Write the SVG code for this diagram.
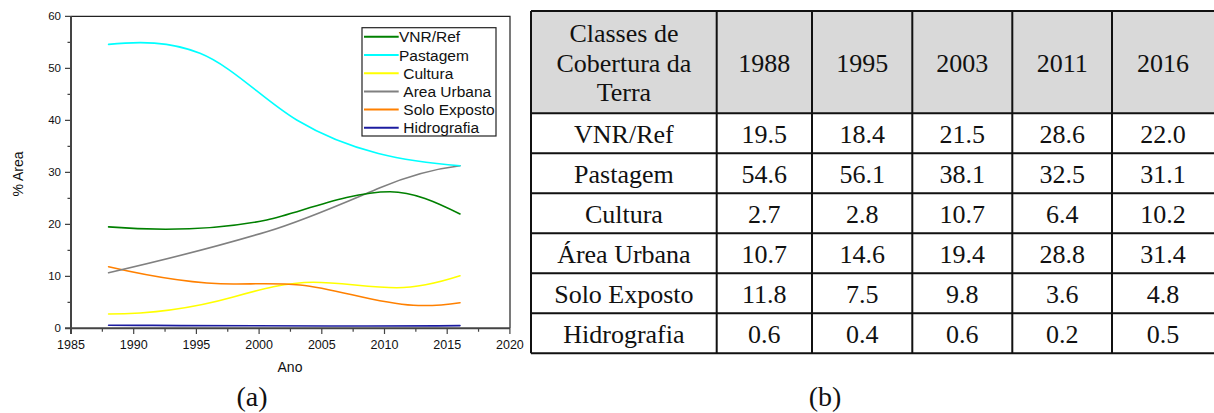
<svg xmlns="http://www.w3.org/2000/svg" width="1214" height="413" viewBox="0 0 1214 413">
<style>
.sans{font-family:"Liberation Sans",Arial,sans-serif;fill:#111}
.ytl{font-size:11.5px;text-anchor:end}
.xtl{font-size:12.5px;text-anchor:middle}
.ttl{font-size:14px;text-anchor:middle}
.leg{font-size:15.5px}
.serif{font-family:"Liberation Serif","Times New Roman",serif;fill:#111}
.cell{font-size:26px;text-anchor:middle}
.cap{font-size:28px;text-anchor:middle}
.curve{fill:none;stroke-width:1.6;stroke-linecap:round;stroke-linejoin:round}
.grid{stroke:#111;stroke-width:2;fill:none}
</style>
<rect width="1214" height="413" fill="#fff"/>
<g id="chart">
  <g id="frame">
    <path d="M71,16.3H510V328.3" fill="none" stroke="#222" stroke-width="1.2"/>
    <path d="M71,16.3V334M65,328.3H510" fill="none" stroke="#444" stroke-width="2"/>
    <path d="M65,16.3H71M65,68.3H71M65,120.3H71M65,172.3H71M65,224.3H71M65,276.3H71M67.5,42.3H71M67.5,94.3H71M67.5,146.3H71M67.5,198.3H71M67.5,250.3H71M67.5,302.3H71" stroke="#444" stroke-width="1.2" fill="none"/>
    <path d="M133.7,328.3V334M196.4,328.3V334M259.1,328.3V334M321.8,328.3V334M384.5,328.3V334M447.2,328.3V334M509.9,328.3V334M102.35,328.3V331.8M165.05,328.3V331.8M227.75,328.3V331.8M290.45,328.3V331.8M353.15,328.3V331.8M415.85,328.3V331.8M478.55,328.3V331.8" stroke="#444" stroke-width="1.2" fill="none"/>
  </g>
  <g id="y-labels" class="sans ytl">
    <text x="61" y="332.3">0</text>
    <text x="61" y="280.3">10</text>
    <text x="61" y="228.3">20</text>
    <text x="61" y="176.3">30</text>
    <text x="61" y="124.3">40</text>
    <text x="61" y="72.3">50</text>
    <text x="61" y="20.3">60</text>
  </g>
  <g id="x-labels" class="sans xtl">
    <text x="71" y="349">1985</text>
    <text x="133.7" y="349">1990</text>
    <text x="196.4" y="349">1995</text>
    <text x="259.1" y="349">2000</text>
    <text x="321.8" y="349">2005</text>
    <text x="384.5" y="349">2010</text>
    <text x="447.2" y="349">2015</text>
    <text x="509.9" y="349">2020</text>
  </g>
  <text class="sans ttl" x="290" y="371.7">Ano</text>
  <text class="sans ttl" transform="translate(23.3,174) rotate(-90)" x="0" y="0">% Area</text>
</g>
<g id="connectors">
  <path id="curve-hidrografia" class="curve" stroke="#1c1ca0" d="M108.6,325.2 C200,325.6 350,326.6 460,325.6"/>
  <path id="curve-cultura" class="curve" stroke="#ffff00" d="M108.6,314 C150.2,314 191.7,308.6 233.3,297 C260,289.5 286.6,282.3 313.3,282.3 C341.1,282.3 368.9,287.7 396.7,287.7 C417.8,287.7 438.9,282.5 460,275.7"/>
  <path id="curve-solo" class="curve" stroke="#ff8000" d="M108.6,266.7 C150.2,276.3 191.7,284 233.3,284 C255.5,284 277.8,282.8 300,285 C337.8,288.8 375.5,303.4 413.3,305.3 C428.9,306.1 444.4,305 460,302.7"/>
  <path id="curve-urbana" class="curve" stroke="#808080" d="M108.6,272.7 C161.3,260.6 214,247.5 266.7,231.7 C304.5,220.4 342.2,203.6 380,187.7 C406.7,176.5 433.3,168.9 460,165.7"/>
  <path id="curve-vnr" class="curve" stroke="#008000" d="M108.6,226.9 C161.3,231.1 214,230.5 266.7,220 C300,212.7 348.9,191.7 390,191.7 C413.3,191.7 436.7,202.35 460,214"/>
  <path id="curve-pastagem" class="curve" stroke="#00ffff" d="M108.6,44.4 C139.1,41.3 169.5,41.1 200,53.3 C232.2,66.2 264.5,100.7 296.7,120 C351.1,152.6 405.6,161.3 460,165.7"/>
</g>
<g id="legend">
  <rect x="362" y="27.7" width="134" height="108.3" fill="#fff" stroke="#222" stroke-width="1.2"/>
  <g stroke-width="2">
    <path d="M364,36.7H398.7" stroke="#008000"/>
    <path d="M364,55H398.7" stroke="#00ffff"/>
    <path d="M364,73.2H398.7" stroke="#ffff00"/>
    <path d="M364,91.4H398.7" stroke="#808080"/>
    <path d="M364,109.5H398.7" stroke="#ff8000"/>
    <path d="M364,127.7H398.7" stroke="#1c1ca0"/>
  </g>
  <g class="sans leg">
    <text x="399" y="42.3">VNR/Ref</text>
    <text x="399" y="60.6">Pastagem</text>
    <text x="403.3" y="78.8">Cultura</text>
    <text x="403.3" y="97">Area Urbana</text>
    <text x="403.3" y="115.1">Solo Exposto</text>
    <text x="403.3" y="133.3">Hidrografia</text>
  </g>
</g>
<text class="serif cap" x="252" y="406">(a)</text>
<g id="table">
  <rect x="531" y="11" width="684" height="102.3" fill="#d9d9d9"/>
  <path class="grid" d="M531,11H1215M531,113.3H1215M531,153.3H1215M531,193.3H1215M531,233.3H1215M531,273.3H1215M531,313.3H1215M531,353.3H1215M531,11V353.3M716.7,11V353.3M812,11V353.3M912.3,11V353.3M1012.3,11V353.3M1112,11V353.3"/>
  <g class="serif cell">
    <text x="623.9" y="41.5">Classes de</text>
    <text x="623.9" y="71.5">Cobertura da</text>
    <text x="623.9" y="101">Terra</text>
    <text x="764.3" y="71.5">1988</text>
    <text x="862.2" y="71.5">1995</text>
    <text x="962.3" y="71.5">2003</text>
    <text x="1062.2" y="71.5">2011</text>
    <text x="1163" y="71.5">2016</text>

    <text x="623.9" y="143.3">VNR/Ref</text>
    <text x="764.3" y="143.3">19.5</text>
    <text x="862.2" y="143.3">18.4</text>
    <text x="962.3" y="143.3">21.5</text>
    <text x="1062.2" y="143.3">28.6</text>
    <text x="1163" y="143.3">22.0</text>

    <text x="623.9" y="183.3">Pastagem</text>
    <text x="764.3" y="183.3">54.6</text>
    <text x="862.2" y="183.3">56.1</text>
    <text x="962.3" y="183.3">38.1</text>
    <text x="1062.2" y="183.3">32.5</text>
    <text x="1163" y="183.3">31.1</text>

    <text x="623.9" y="223.3">Cultura</text>
    <text x="764.3" y="223.3">2.7</text>
    <text x="862.2" y="223.3">2.8</text>
    <text x="962.3" y="223.3">10.7</text>
    <text x="1062.2" y="223.3">6.4</text>
    <text x="1163" y="223.3">10.2</text>

    <text x="623.9" y="263.3">Área Urbana</text>
    <text x="764.3" y="263.3">10.7</text>
    <text x="862.2" y="263.3">14.6</text>
    <text x="962.3" y="263.3">19.4</text>
    <text x="1062.2" y="263.3">28.8</text>
    <text x="1163" y="263.3">31.4</text>

    <text x="623.9" y="303.3">Solo Exposto</text>
    <text x="764.3" y="303.3">11.8</text>
    <text x="862.2" y="303.3">7.5</text>
    <text x="962.3" y="303.3">9.8</text>
    <text x="1062.2" y="303.3">3.6</text>
    <text x="1163" y="303.3">4.8</text>

    <text x="623.9" y="343.3">Hidrografia</text>
    <text x="764.3" y="343.3">0.6</text>
    <text x="862.2" y="343.3">0.4</text>
    <text x="962.3" y="343.3">0.6</text>
    <text x="1062.2" y="343.3">0.2</text>
    <text x="1163" y="343.3">0.5</text>
  </g>
</g>
<text class="serif cap" x="825" y="406">(b)</text>
</svg>
